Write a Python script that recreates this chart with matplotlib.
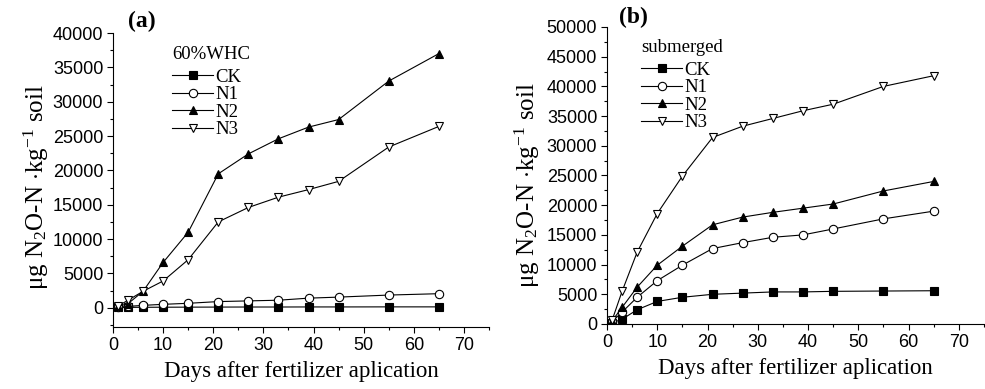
import matplotlib
matplotlib.use("Agg")
import matplotlib.pyplot as plt
from matplotlib.ticker import MultipleLocator

days = [1, 3, 6, 10, 15, 21, 27, 33, 39, 45, 55, 65]

# (a) 60%WHC
a_ck = [50, 60, 70, 80, 90, 100, 110, 110, 120, 120, 130, 130]
a_n1 = [50, 200, 350, 500, 650, 900, 1000, 1100, 1400, 1550, 1850, 2050]
a_n2 = [200, 600, 2400, 6600, 11000, 19500, 22400, 24600, 26300, 27400, 33000, 37000]
a_n3 = [250, 1100, 2400, 3900, 7000, 12500, 14600, 16100, 17200, 18400, 23400, 26400]

# (b) submerged
b_ck = [200, 800, 2400, 3800, 4500, 5000, 5200, 5400, 5400, 5500, 5550, 5600]
b_n1 = [400, 2000, 4500, 7300, 9900, 12700, 13700, 14600, 15000, 16000, 17700, 19000]
b_n2 = [500, 2800, 6200, 9900, 13100, 16700, 18000, 18800, 19500, 20200, 22400, 24000]
b_n3 = [600, 5500, 12100, 18600, 24900, 31400, 33300, 34600, 35900, 37000, 40000, 41800]

names = ["CK", "N1", "N2", "N3"]
styles = [dict(marker="s", mfc="black"),
          dict(marker="o", mfc="white"),
          dict(marker="^", mfc="black"),
          dict(marker="v", mfc="white")]

serif = "Liberation Serif"
sans = "Liberation Sans"

plt.rcParams["font.family"] = sans
plt.rcParams["mathtext.fontset"] = "custom"
plt.rcParams["mathtext.rm"] = serif
plt.rcParams["mathtext.it"] = serif

W, H = 985, 389
fig = plt.figure(figsize=(W / 100, H / 100), dpi=100)


def panel(rect, series, ylim, label, title, leg_xy, lab_xy, ylab_xy):
    l, t, r, b = rect
    ax = fig.add_axes([l / W, 1 - b / H, (r - l) / W, (b - t) / H])
    for vals, name, st in zip(series, names, styles):
        ax.plot(days, vals, color="black", lw=0.8, ms=6, mec="black",
                mew=0.8, label=name, **st)
    ax.set_xlim(0, 75)
    ax.set_ylim(*ylim)
    ax.spines["top"].set_visible(False)
    ax.spines["right"].set_visible(False)
    ax.xaxis.set_major_locator(MultipleLocator(10))
    ax.xaxis.set_minor_locator(MultipleLocator(5))
    ax.yaxis.set_major_locator(MultipleLocator(5000))
    ax.yaxis.set_minor_locator(MultipleLocator(2500))
    ax.tick_params(which="major", direction="out", length=4, width=0.8,
                   labelsize=13, pad=3)
    ax.tick_params(which="minor", direction="out", length=2.5, width=0.8)
    ax.set_xlabel("Days after fertilizer aplication", fontfamily=serif,
                  fontsize=16.5, labelpad=5)
    ax.set_ylabel(r"$\mu$g N$_2$O-N $\cdot$kg$^{-1}$ soil", fontfamily=serif,
                  fontsize=18, va="center")
    ax.yaxis.set_label_coords((ylab_xy[0] - l) / (r - l),
                              (b - ylab_xy[1]) / (b - t))
    ax.text(lab_xy[0] / W, 1 - lab_xy[1] / H, label, transform=fig.transFigure,
            fontfamily=serif, fontweight="bold", fontsize=17,
            ha="left", va="center")
    leg = ax.legend(loc="upper left", bbox_to_anchor=(leg_xy[0] / W, 1 - leg_xy[1] / H),
                    bbox_transform=fig.transFigure, frameon=False,
                    title=title, alignment="left", handlelength=2.2,
                    handletextpad=0.1, labelspacing=0.02, borderpad=0,
                    borderaxespad=0, prop={"family": serif, "size": 13.5})
    leg.get_title().set_fontfamily(serif)
    leg.get_title().set_fontsize(13.5)
    leg._legend_box.sep = 4
    return ax


panel((113, 33, 489, 327), [a_ck, a_n1, a_n2, a_n3], (-2800, 40000),
      "(a)", "60%WHC", (172, 46), (128, 21), (36, 187))
panel((607, 27, 984, 324), [b_ck, b_n1, b_n2, b_n3], (0, 50000),
      "(b)", "submerged", (641, 39), (619, 17), (527, 185))

fig.savefig("out.png", dpi=100)
